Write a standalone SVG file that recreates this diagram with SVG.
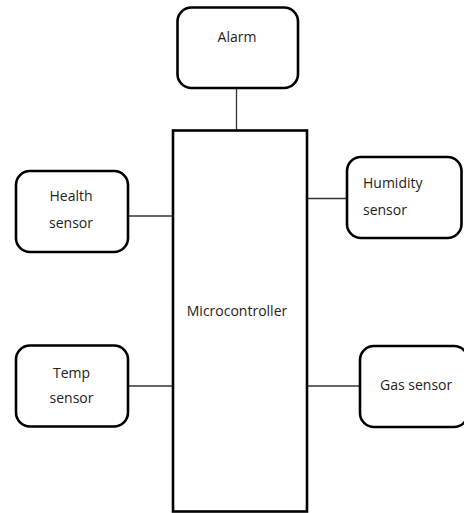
<svg xmlns="http://www.w3.org/2000/svg" width="464" height="513" viewBox="0 0 464 513">
<style>
.box{fill:#fff;stroke:#000;stroke-width:2.6}
.con{stroke:#333;stroke-width:1.3;fill:none}
text{font-family:"Open Sans","Liberation Sans",sans-serif;font-size:14px;fill:#222}
.c{text-anchor:middle}
</style>
<rect width="464" height="513" fill="#fff"/>
<g id="connectors">
<line class="con" x1="236.5" y1="88" x2="236.5" y2="130"/>
<line class="con" x1="128" y1="216" x2="172" y2="216"/>
<line class="con" x1="307" y1="198.5" x2="347" y2="198.5"/>
<line class="con" x1="128" y1="386" x2="172" y2="386"/>
<line class="con" x1="307" y1="386" x2="360" y2="386"/>
</g>
<g id="microcontroller">
<rect class="box" x="173" y="130.5" width="134" height="381"/>
<text class="c" x="237" y="316">Microcontroller</text>
</g>
<g id="alarm">
<rect class="box" x="177.5" y="7.5" width="120.5" height="80.5" rx="14"/>
<text class="c" x="237" y="42">Alarm</text>
</g>
<g id="health">
<rect class="box" x="16" y="171" width="112" height="81" rx="14"/>
<text class="c" x="71" y="201">Health</text>
<text class="c" x="71" y="228">sensor</text>
</g>
<g id="humidity">
<rect class="box" x="347" y="157" width="114.5" height="81" rx="14"/>
<text x="363" y="188">Humidity</text>
<text x="363" y="215">sensor</text>
</g>
<g id="temp">
<rect class="box" x="16" y="345.5" width="112" height="81" rx="14"/>
<text class="c" x="71.5" y="378">Temp</text>
<text class="c" x="71.5" y="403">sensor</text>
</g>
<g id="gas">
<rect class="box" x="360" y="346" width="108" height="81" rx="14"/>
<text x="380" y="390">Gas sensor</text>
</g>
</svg>
